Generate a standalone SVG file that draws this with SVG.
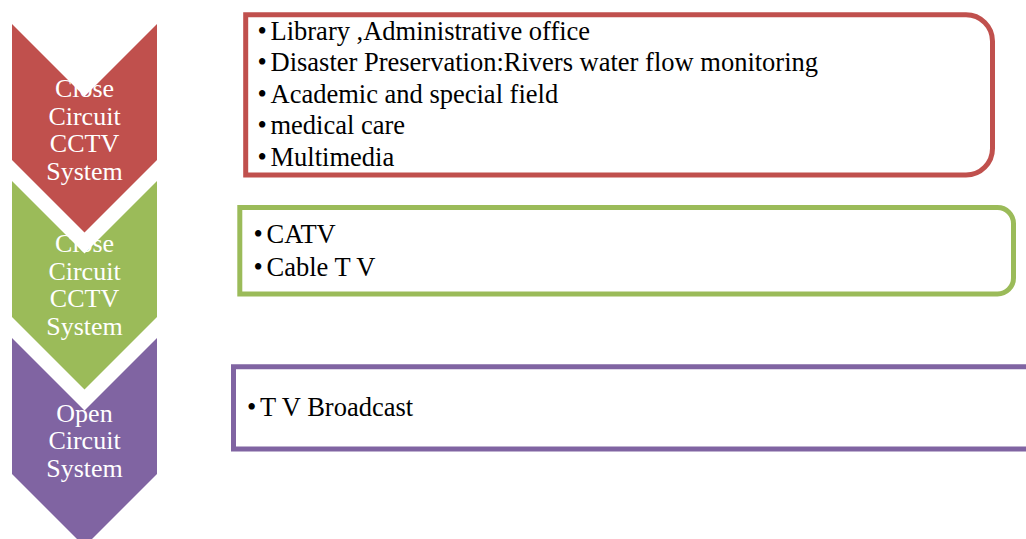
<svg xmlns="http://www.w3.org/2000/svg" width="1026" height="539" viewBox="0 0 1026 539">
<style>
.chev-text{font-family:"Liberation Serif","Times New Roman",serif;font-size:26px;fill:#ffffff;text-anchor:middle}
.item{font-family:"Liberation Serif","Times New Roman",serif;font-size:26.5px;fill:#000000}
.box{fill:#ffffff;stroke-width:5}
</style>
<rect width="1026" height="539" fill="#ffffff"/>
<g id="connectors"></g>
<g id="chevron-red">
<path d="M12,24 L84.5,96.5 L157,24 L157,160 L84.5,232.5 L12,160 Z" fill="#C0504D"/>
<text class="chev-text"><tspan x="84.5" y="97">Close</tspan><tspan x="84.5" y="124.5">Circuit</tspan><tspan x="84.5" y="152">CCTV</tspan><tspan x="84.5" y="179.5">System</tspan></text>
</g>
<g id="chevron-green">
<path d="M12,181 L84.5,253.5 L157,181 L157,317 L84.5,389.5 L12,317 Z" fill="#9BBB59"/>
<text class="chev-text"><tspan x="84.5" y="252">Close</tspan><tspan x="84.5" y="279.5">Circuit</tspan><tspan x="84.5" y="307">CCTV</tspan><tspan x="84.5" y="334.5">System</tspan></text>
</g>
<g id="chevron-purple">
<path d="M12,338 L84.5,410.5 L157,338 L157,474 L84.5,546.5 L12,474 Z" fill="#8064A2"/>
<text class="chev-text"><tspan x="84.5" y="421.5">Open</tspan><tspan x="84.5" y="449">Circuit</tspan><tspan x="84.5" y="476.5">System</tspan></text>
</g>
<g id="box-red">
<path class="box" stroke="#C0504D" d="M245.7,14.8 H966 A26.5,26.5 0 0 1 992.5,41.3 V148.5 A26.5,26.5 0 0 1 966,175 H245.7 Z"/>
<text class="item"><tspan x="257.5" y="39.5">•</tspan><tspan x="270.5" y="39.5">Library ,Administrative office</tspan></text>
<text class="item"><tspan x="257.5" y="71">•</tspan><tspan x="270.5" y="71">Disaster Preservation:Rivers water flow monitoring</tspan></text>
<text class="item"><tspan x="257.5" y="102.5">•</tspan><tspan x="270.5" y="102.5">Academic and special field</tspan></text>
<text class="item"><tspan x="257.5" y="134">•</tspan><tspan x="270.5" y="134">medical care</tspan></text>
<text class="item"><tspan x="257.5" y="165.5">•</tspan><tspan x="270.5" y="165.5">Multimedia</tspan></text>
</g>
<g id="box-green">
<path class="box" stroke="#9BBB59" d="M239.8,207.5 H997.5 A16,16 0 0 1 1013.5,223.5 V278 A16,16 0 0 1 997.5,294 H239.8 Z"/>
<text class="item"><tspan x="253.5" y="243">•</tspan><tspan x="266.5" y="243">CATV</tspan></text>
<text class="item"><tspan x="253.5" y="276">•</tspan><tspan x="266.5" y="276">Cable T V</tspan></text>
</g>
<g id="box-purple">
<path class="box" stroke="#8064A2" d="M233.5,366.7 H1031 A14,14 0 0 1 1045,380.7 V435 A14,14 0 0 1 1031,449 H233.5 Z"/>
<text class="item"><tspan x="247" y="416">•</tspan><tspan x="260" y="416">T V Broadcast</tspan></text>
</g>
</svg>
